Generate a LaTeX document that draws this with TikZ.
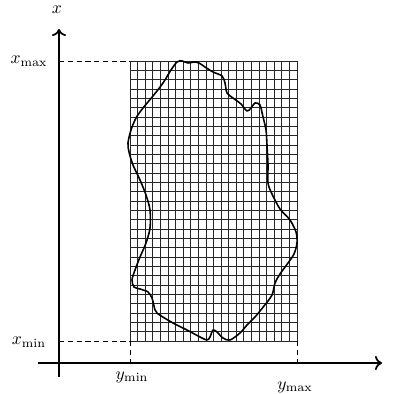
\documentclass[tikz,border=0pt]{standalone}
\usetikzlibrary{arrows.meta}
\begin{document}
\begin{tikzpicture}[x=0.02cm,y=-0.02cm,
  axis/.style={line width=1.4pt,-{To[length=4pt,width=8pt,line width=1pt]}},
  gridline/.style={line width=0.45pt,black!85},
  guide/.style={dashed,line width=0.4pt,dash pattern=on 3pt off 2pt},
  blob/.style={line width=0.9pt,line join=round},
  lab/.style={inner sep=0pt}]
\useasboundingbox (0,0) rectangle (395,394);
% axes
\coordinate (xs) at (38,363);
\coordinate (xe) at (382,363);
\coordinate (ys) at (59,377);
\coordinate (ye) at (59,29);
\draw[axis] (xs) -- (xe);
\draw[axis] (ys) -- (ye);
\node[lab] (lx) at (57,10) {$x$};
% grid
\coordinate (g1) at (130,61);
\coordinate (g2) at (297,341);
\foreach \i in {0,...,22}
  \draw[gridline] ({130+\i*167/22},61) -- ({130+\i*167/22},341);
\foreach \j in {0,...,30}
  \draw[gridline] (130,{61+\j*280/30}) -- (297,{61+\j*280/30});
% guides
\coordinate (axmax) at (59,61);
\coordinate (axmin) at (59,341);
\coordinate (gtl) at (130,61);
\coordinate (gbl) at (130,341);
\coordinate (gbr) at (297,341);
\coordinate (aymin) at (130,363);
\coordinate (aymax) at (297,363);
\draw[guide] (axmax) -- (gtl);
\draw[guide] (axmin) -- (gbl);
\draw[guide] (gbl) -- (aymin);
\draw[guide] (gbr) -- (aymax);
\node[lab] (lxmax) at (29,61) {$x_{\max}$};
\node[lab] (lxmin) at (29,342) {$x_{\min}$};
\node[lab] (lymin) at (132,377) {$y_{\min}$};
\node[lab] (lymax) at (295,387) {$y_{\max}$};
% region
\draw[blob] plot[smooth cycle,tension=0.5] coordinates {
(177,62) (182,61) (188,63) (194,62) (199,63) (205,67) (213,72) (222,76)
(225,83) (227,93) (233,98) (241,104) (247,111) (251,108) (255,103) (260,105)
(263,117) (266,130) (267,145) (268,165) (268,183) (272,194) (280,209) (290,220)
(296,232) (297,243) (294,254) (288,263) (280,274) (275,283) (272,295) (264,306)
(255,317) (247,325) (240,333) (230,340) (223,338) (217,332) (213,330) (210,337)
(207,340) (200,337) (187,330) (173,323) (157,313) (154,306) (152,298) (148,292)
(140,289) (134,287) (132,280) (135,270) (140,257) (146,243) (150,228) (150,210)
(146,195) (140,180) (133,165) (129,152) (128,143) (131,130) (136,118) (143,108)
(153,96) (163,83) (171,70)};
\end{tikzpicture}
\end{document}
